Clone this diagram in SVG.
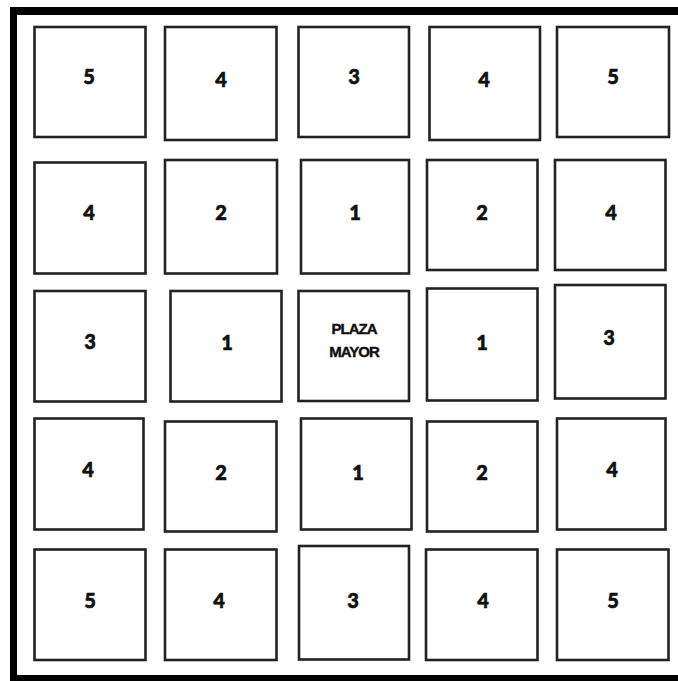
<svg xmlns="http://www.w3.org/2000/svg" width="678" height="681" viewBox="0 0 678 681">
<style>
.b{fill:#fff;stroke:#222;stroke-width:2.6}
.t{font-family:Lato,"Liberation Sans",sans-serif;font-weight:900;font-size:20px;fill:#111;stroke:#111;stroke-width:0.6;text-anchor:middle}
.p{font-family:"Liberation Sans",Arial,sans-serif;font-weight:bold;font-size:15px;fill:#111;stroke:#111;stroke-width:0.4;text-anchor:middle;letter-spacing:-1px}
</style>
<rect width="678" height="681" fill="#fff"/>
<g id="frame" fill="#000">
<rect x="10" y="7" width="668" height="8"/>
<rect x="10" y="7" width="7" height="674"/>
<rect x="10" y="675" width="668" height="6"/>
</g>
<g id="connectors"></g>
<g id="r1c1"><rect class="b" x="34.5" y="27" width="111" height="110"/><text class="t" x="89" y="84">5</text></g>
<g id="r1c2"><rect class="b" x="165" y="27" width="111.5" height="113"/><text class="t" x="221" y="87">4</text></g>
<g id="r1c3"><rect class="b" x="298.5" y="27" width="110.5" height="110"/><text class="t" x="354" y="84">3</text></g>
<g id="r1c4"><rect class="b" x="429.5" y="27" width="110.5" height="113"/><text class="t" x="484" y="87">4</text></g>
<g id="r1c5"><rect class="b" x="557" y="27" width="112" height="110"/><text class="t" x="613" y="84">5</text></g>

<g id="r2c1"><rect class="b" x="34.5" y="162.5" width="111" height="111"/><text class="t" x="89" y="220">4</text></g>
<g id="r2c2"><rect class="b" x="165" y="160" width="112" height="113.5"/><text class="t" x="221" y="220">2</text></g>
<g id="r2c3"><rect class="b" x="301" y="160" width="108" height="113.5"/><text class="t" x="355" y="220">1</text></g>
<g id="r2c4"><rect class="b" x="427" y="160" width="110.5" height="110"/><text class="t" x="482" y="220">2</text></g>
<g id="r2c5"><rect class="b" x="555" y="160" width="110.5" height="110"/><text class="t" x="611" y="220">4</text></g>

<g id="r3c1"><rect class="b" x="34.5" y="291" width="111" height="110.5"/><text class="t" x="90" y="349">3</text></g>
<g id="r3c2"><rect class="b" x="170.5" y="291" width="111" height="110.5"/><text class="t" x="227" y="350">1</text></g>
<g id="r3c3"><rect class="b" x="298.5" y="291" width="110.5" height="110"/><text class="p" x="354" y="334">PLAZA</text><text class="p" x="354" y="357">MAYOR</text></g>
<g id="r3c4"><rect class="b" x="427" y="288.5" width="110.5" height="112"/><text class="t" x="482" y="350">1</text></g>
<g id="r3c5"><rect class="b" x="555" y="285" width="110.5" height="113.5"/><text class="t" x="609" y="345">3</text></g>

<g id="r4c1"><rect class="b" x="34.5" y="418.5" width="109" height="111"/><text class="t" x="88" y="477">4</text></g>
<g id="r4c2"><rect class="b" x="165" y="421.5" width="111.5" height="110"/><text class="t" x="221" y="480">2</text></g>
<g id="r4c3"><rect class="b" x="301" y="418.5" width="110.5" height="111"/><text class="t" x="358" y="480">1</text></g>
<g id="r4c4"><rect class="b" x="427" y="421.5" width="110.5" height="110"/><text class="t" x="482" y="480">2</text></g>
<g id="r4c5"><rect class="b" x="557" y="418.5" width="108.5" height="111"/><text class="t" x="612" y="477">4</text></g>

<g id="r5c1"><rect class="b" x="34.5" y="549.5" width="111" height="110.5"/><text class="t" x="90" y="608">5</text></g>
<g id="r5c2"><rect class="b" x="165" y="549.5" width="111.5" height="110.5"/><text class="t" x="219" y="608">4</text></g>
<g id="r5c3"><rect class="b" x="299" y="546" width="110" height="113.5"/><text class="t" x="353" y="608">3</text></g>
<g id="r5c4"><rect class="b" x="426" y="549.5" width="111.5" height="110.5"/><text class="t" x="483" y="608">4</text></g>
<g id="r5c5"><rect class="b" x="557" y="549.5" width="111.5" height="110.5"/><text class="t" x="613" y="608">5</text></g>
</svg>
